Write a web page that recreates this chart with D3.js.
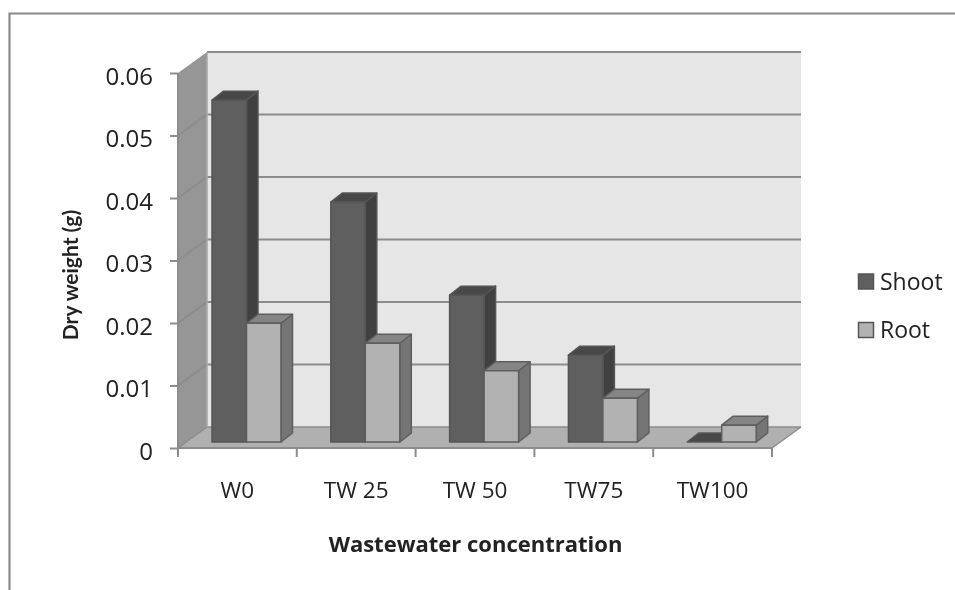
<!DOCTYPE html>
<html><head><meta charset="utf-8">
<script src="https://cdn.jsdelivr.net/npm/d3@7"></script>
<style>
html,body{margin:0;padding:0;background:#fff;}
svg{display:block;filter:blur(0.35px);}
text{font-family:"Open Sans",Lato,sans-serif;fill:#222;}
</style></head><body>
<svg id="c" width="955" height="590"></svg>
<script>
const categories = ["W0","TW 25","TW 50","TW75","TW100"];
const seriesNames = ["Shoot","Root"];
const shoot = [0.0547,0.0384,0.0235,0.0139,0];
const root = [0.019,0.0158,0.0114,0.007,0.0027];
const yTicks = [0,0.01,0.02,0.03,0.04,0.05,0.06];
const yTitle = "Dry weight (g)";
const xTitle = "Wastewater concentration";

const svg = d3.select("#c");
const depth = {x:29,y:-21}, barDepth = {x:11.5,y:-9}, inset = {x:9,y:-6};
const fills = {
  Shoot:{front:"#5f5f5f",side:"#404040",top:"#484848",stroke:"#555"},
  Root:{front:"#b2b2b2",side:"#757575",top:"#858585",stroke:"#5e5e5e"}
};
const x = d3.scaleBand().domain(categories).range([178,772]);
const x1 = d3.scaleBand().domain(seriesNames).range([25,25+69]);
const y = d3.scaleLinear().domain([0,0.06]).range([448,73]);
const poly = p => p.map(q=>q.join(",")).join(" ");

// frame
svg.append("path").attr("d","M955,13.5H9.5V590").attr("fill","none").attr("stroke","#8a8a8a").attr("stroke-width",2.2);

const [x0,xE] = x.range(), y0=y(0), yT=y(0.06);
// back wall
svg.append("polygon").attr("points",poly([[x0+depth.x,yT+depth.y],[xE+depth.x,yT+depth.y],[xE+depth.x,y0+depth.y],[x0+depth.x,y0+depth.y]])).attr("fill","#e6e6e6");
svg.append("line").attr("x1",x0+depth.x).attr("x2",xE+depth.x).attr("y1",yT+depth.y).attr("y2",yT+depth.y).attr("stroke","#8c8c8c").attr("stroke-width",2);
// left wall
svg.append("polygon").attr("points",poly([[x0,yT],[x0+depth.x,yT+depth.y],[x0+depth.x,y0+depth.y],[x0,y0]])).attr("fill","#969696");
// floor
svg.append("polygon").attr("points",poly([[x0,y0],[x0+depth.x,y0+depth.y],[xE+depth.x,y0+depth.y],[xE,y0]])).attr("fill","#b0b0b0");
// gridlines
yTicks.slice(1,-1).forEach(t=>{
  const yy=y(t);
  svg.append("polyline").attr("points",poly([[x0,yy],[x0+depth.x,yy+depth.y],[xE+depth.x,yy+depth.y]])).attr("fill","none").attr("stroke","#8c8c8c").attr("stroke-width",2);
});
svg.append("polyline").attr("points",poly([[x0,y0],[x0+depth.x,y0+depth.y],[xE+depth.x,y0+depth.y]])).attr("fill","none").attr("stroke","#8c8c8c").attr("stroke-width",1.5);
svg.append("line").attr("x1",x0+depth.x).attr("x2",x0+depth.x).attr("y1",yT+depth.y).attr("y2",y0+depth.y).attr("stroke","#a8a8a8").attr("stroke-width",1.5);
svg.append("line").attr("x1",xE).attr("x2",xE+depth.x).attr("y1",y0).attr("y2",y0+depth.y).attr("stroke","#8c8c8c").attr("stroke-width",1.5);

// bars
function bar(cat,name,val){
  const f=fills[name], w=x1.bandwidth();
  const l=x(cat)+x1(name)+inset.x, r=l+w, b=y(0)+inset.y, t=y(val)+inset.y;
  const d=barDepth;
  const g=svg.append("g").attr("stroke",f.stroke).attr("stroke-width",1.5).attr("stroke-linejoin","round");
  g.append("polygon").attr("points",poly([[r,t],[r+d.x,t+d.y],[r+d.x,b+d.y],[r,b]])).attr("fill",f.side);
  g.append("polygon").attr("points",poly([[l,t],[l+d.x,t+d.y],[r+d.x,t+d.y],[r,t]])).attr("fill",f.top);
  if(val>0) g.append("rect").attr("x",l).attr("y",t).attr("width",w).attr("height",b-t).attr("fill",f.front);
}
categories.forEach((c,i)=>{ bar(c,"Shoot",shoot[i]); bar(c,"Root",root[i]); });

// axes
const yAxis = d3.axisLeft(y).tickValues(yTicks).tickSize(8).tickPadding(17).tickFormat(d=>d===0?"0":d3.format(".2f")(d));
const gy = svg.append("g").attr("transform",`translate(${x0},0)`).call(yAxis);
gy.select(".domain").attr("stroke","#8c8c8c").attr("stroke-width",2).attr("d",`M0,${yT}V${y0}`);
gy.selectAll(".tick line").attr("stroke","#8c8c8c").attr("stroke-width",2);
gy.selectAll("text").attr("font-size",24).attr("fill","#222").attr("dy","0.46em");

const xAxis = d3.axisBottom(x).tickSize(0).tickPadding(34);
const gx = svg.append("g").attr("transform",`translate(0,${y0})`).call(xAxis);
gx.select(".domain").attr("stroke","#8c8c8c").attr("stroke-width",2).attr("d",`M${x0},0H${xE}`);
gx.selectAll("text").attr("font-size",22.5).attr("fill","#222");
[...categories.map(c=>x(c)),xE].forEach(px=>{
  gx.append("line").attr("x1",px).attr("x2",px).attr("y1",0).attr("y2",9).attr("stroke","#8c8c8c").attr("stroke-width",2);
});

// titles
svg.append("text").attr("transform","translate(78,275) rotate(-90)").attr("text-anchor","middle").style("font-family","Lato").attr("font-size",21).attr("font-weight",700).attr("fill","#111").text(yTitle);
svg.append("text").attr("x",475.5).attr("y",552).attr("text-anchor","middle").attr("font-size",22).attr("font-weight",700).attr("fill","#111").text(xTitle);

// legend
const ly = d3.scalePoint().domain(seriesNames).range([281.5,330]);
seriesNames.forEach(n=>{
  const g=svg.append("g");
  g.append("rect").attr("x",858.5).attr("y",ly(n)-7.5).attr("width",15).attr("height",15).attr("fill",fills[n].front).attr("stroke","#555").attr("stroke-width",1.5);
  g.append("text").attr("x",880).attr("y",ly(n)+8).attr("font-size",23).attr("fill","#222").text(n);
});
</script>
</body></html>
